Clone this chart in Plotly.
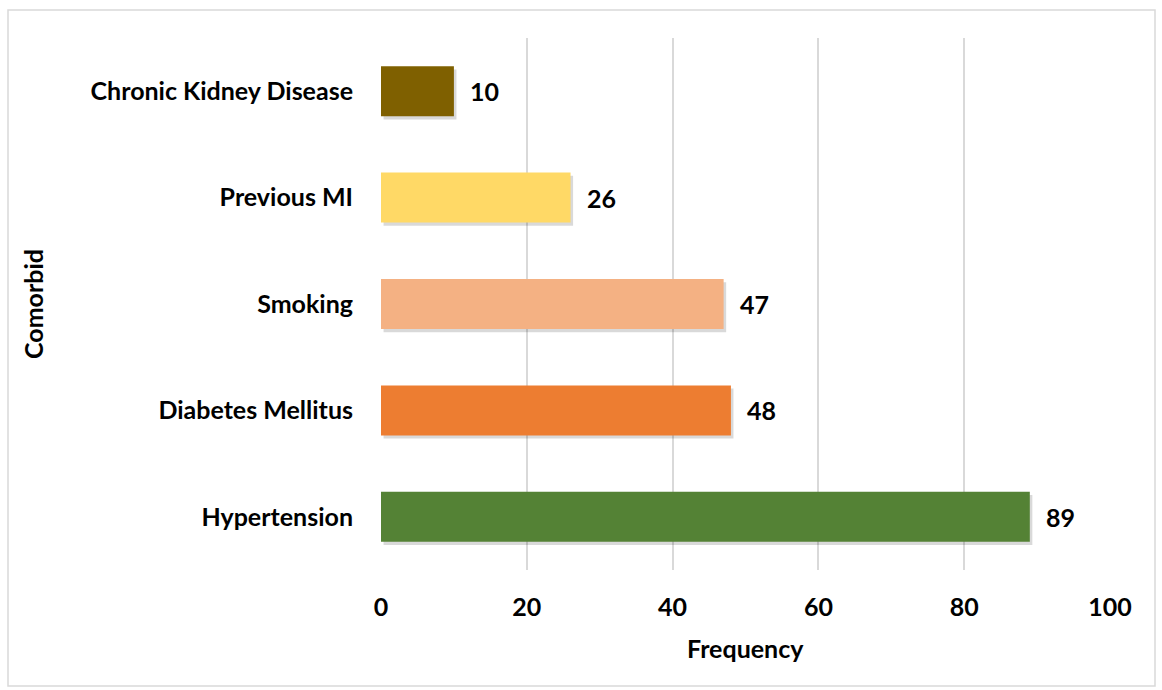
import plotly.graph_objects as go

categories = ["Hypertension", "Diabetes Mellitus", "Smoking", "Previous MI", "Chronic Kidney Disease"]
values = [89, 48, 47, 26, 10]
colors = ["#548235", "#ED7D31", "#F4B183", "#FFD966", "#7F6000"]
tick_vals = [0, 20, 40, 60, 80, 100]

FONT = "Lato"
FS = 25
W, H = 1162, 690
L, R, T, B = 381, 52, 38, 120
pw, ph = W - L - R, H - T - B

fig = go.Figure()
# soft shadow
fig.add_trace(go.Bar(
    y=categories, x=values, orientation="h", width=0.47,
    marker=dict(color="rgba(0,0,0,0.15)", line=dict(width=0)),
    offset=-0.235 - 0.03, hoverinfo="skip", showlegend=False,
    base=[0.35]*len(values),
))
fig.add_trace(go.Bar(
    y=categories, x=values, orientation="h", width=0.47,
    marker=dict(color=colors, line=dict(width=0)),
    showlegend=False,
))
for c, v in zip(categories, values):
    fig.add_annotation(x=v, y=c, text=f"<b>{v}</b>", showarrow=False,
                       xanchor="left", xshift=14,
                       font=dict(family=FONT, size=FS, color="#000000"))

# axis titles
fig.add_annotation(xref="paper", yref="paper", x=0.5, y=(H - B - 648) / ph,
                   text="<b>Frequency</b>", showarrow=False, xanchor="center", yanchor="middle",
                   font=dict(family=FONT, size=FS, color="#000000"))
fig.add_annotation(xref="paper", yref="paper", x=(33 - L) / pw, y=0.5,
                   text="<b>Comorbid</b>", showarrow=False, xanchor="center", yanchor="middle",
                   textangle=-90, font=dict(family=FONT, size=FS, color="#000000"))

fig.update_layout(
    width=W, height=H,
    margin=dict(l=L, r=R, t=T, b=B),
    paper_bgcolor="white", plot_bgcolor="white",
    barmode="overlay",
    font=dict(family=FONT, color="#000000"),
    xaxis=dict(range=[0, 100], tickvals=tick_vals, ticktext=[f"<b>{t}</b>" for t in tick_vals],
               showgrid=True, gridcolor="#D9D9D9", gridwidth=1.5, zeroline=False,
               showline=False, tickfont=dict(family=FONT, size=FS), ticks="",
               ticklabelstandoff=20),
    yaxis=dict(categoryorder="array", categoryarray=categories,
               ticktext=[f"<b>{c}</b>" for c in categories], tickvals=categories,
               showgrid=False, zeroline=False, showline=False, ticks="",
               ticklabelstandoff=27,
               tickfont=dict(family=FONT, size=FS)),
)
# outer frame
fig.add_shape(type="rect", xref="paper", yref="paper",
              x0=(8 - L) / pw, x1=(1155 - L) / pw,
              y0=(H - B - 686) / ph, y1=(H - B - 10) / ph,
              line=dict(color="#D9D9D9", width=1.5), layer="below")
fig.write_html("out.html")
